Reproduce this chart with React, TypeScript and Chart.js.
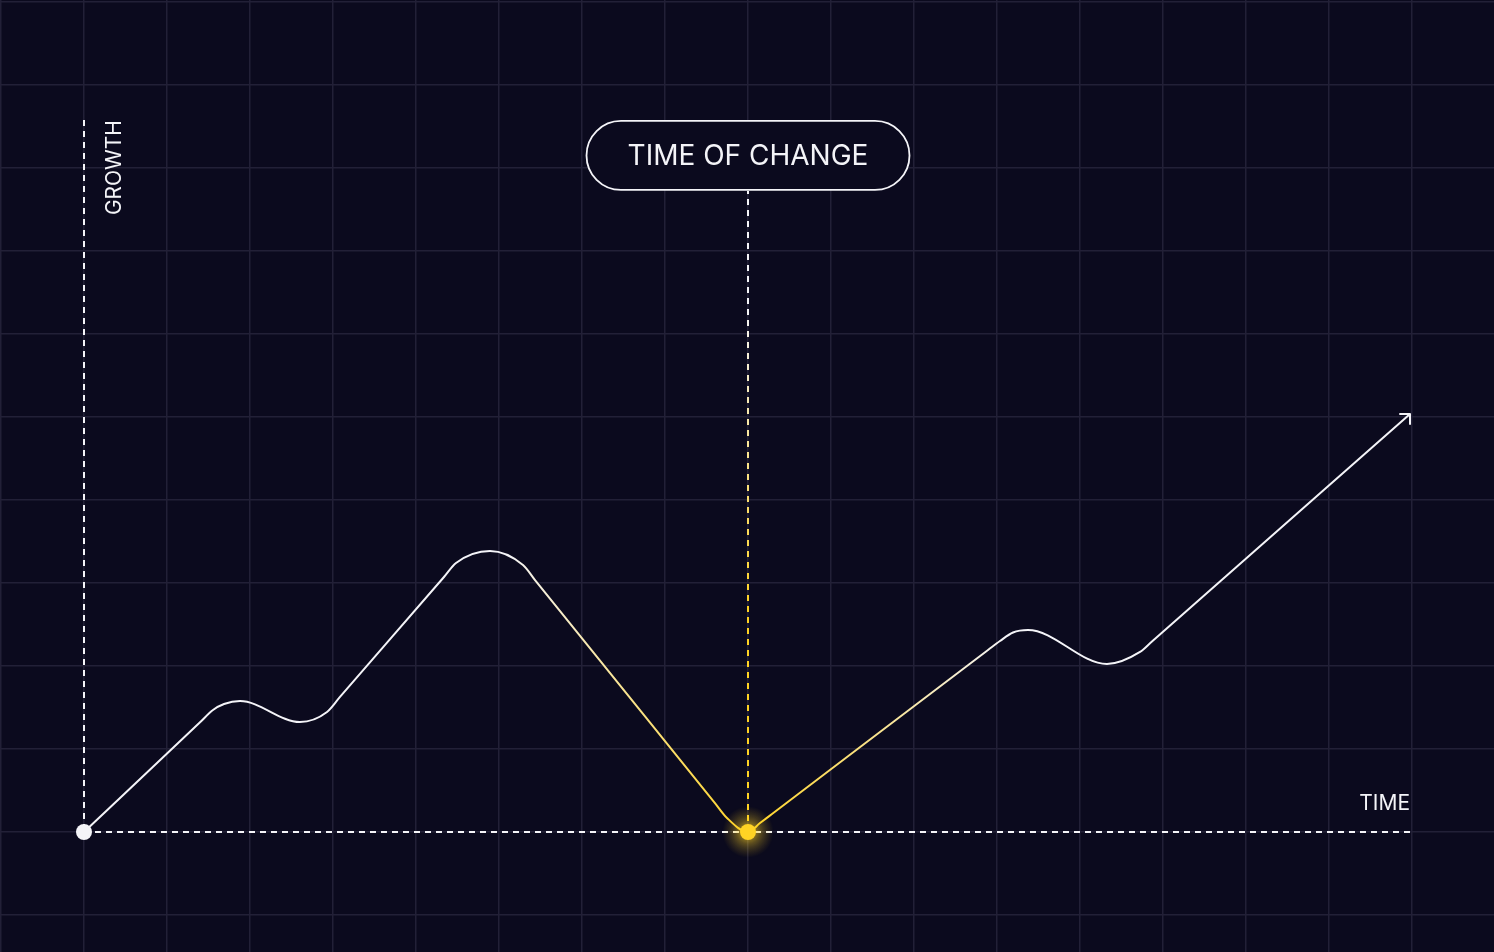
import React, { useEffect, useRef } from "react";
import { Chart, registerables } from "chart.js";

Chart.register(...registerables);

// ---- data (grid units: x = time, y = growth) ----
const curveX = [
  0, 1.398, 1.554, 1.687, 1.88, 2.602, 2.928, 3.084, 4.337, 4.482, 4.892, 5.289, 5.434,
  7.602, 7.747, 8, 8.145, 8.289, 10.892, 11.036, 11.193, 11.373, 12.325, 12.723, 12.867, 15.976,
];
const curveY = [
  0, 1.322, 1.47, 1.542, 1.578, 1.325, 1.446, 1.627, 3.072, 3.241, 3.386, 3.217, 3.036,
  0.349, 0.169, 0, 0.108, 0.217, 2.193, 2.301, 2.404, 2.434, 2.024, 2.169, 2.296, 5.036,
];

const xGrid = [-1, 0, 1, 2, 3, 4, 5, 6, 7, 8, 9, 10, 11, 12, 13, 14, 15, 16];
const yGrid = [-1, 0, 1, 2, 3, 4, 5, 6, 7, 8, 9, 10];

const timeAxisEnd = 15.976;
const growthAxisTop = 8.578;
const changeX = 8;
const changeLineTop = 7.723;
const changeLabelY = 8.151;

const changeLabel = "TIME OF CHANGE";
const growthLabel = "GROWTH";
const timeLabel = "TIME";

const X_MIN = -84 / 83;
const X_MAX = (1494 - 84) / 83;
const Y_MIN = -120 / 83;
const Y_MAX = 832 / 83;

const BG = "#0b0a1e";
const GRID = "#222037";
const WHITE = "#f4f4f8";
const YELLOW = "#ffd324";

export default function App() {
  const ref = useRef<HTMLCanvasElement | null>(null);

  useEffect(() => {
    const canvas = ref.current;
    if (!canvas) return;

    const curveData = curveX.map((x, i) => ({ x, y: curveY[i] }));

    const curveGradient = (ctx: any) => {
      const chart = ctx.chart;
      const xs = chart.scales?.x;
      if (!chart.chartArea || !xs) return WHITE;
      const x0 = xs.getPixelForValue(5.1);
      const x1 = xs.getPixelForValue(11.1);
      const xm = xs.getPixelForValue(changeX);
      const g = chart.ctx.createLinearGradient(x0, 0, x1, 0);
      g.addColorStop(0, WHITE);
      g.addColorStop((xm - x0) / (x1 - x0), YELLOW);
      g.addColorStop(1, WHITE);
      return g;
    };

    const changeGradient = (ctx: any) => {
      const chart = ctx.chart;
      const ys = chart.scales?.y;
      if (!chart.chartArea || !ys) return WHITE;
      const y0 = ys.getPixelForValue(6.3);
      const y1 = ys.getPixelForValue(2.7);
      const g = chart.ctx.createLinearGradient(0, y0, 0, y1);
      g.addColorStop(0, WHITE);
      g.addColorStop(1, YELLOW);
      return g;
    };

    const overlay = {
      id: "overlay",
      beforeDatasetDraw(chart: any, args: any) {
        if (args.meta?.label === "change-dot") {
          const ctx = chart.ctx;
          const xs = chart.scales.x;
          const ys = chart.scales.y;
          const px = xs.getPixelForValue(changeX);
          const py = ys.getPixelForValue(0);
          const g = ctx.createRadialGradient(px, py, 0, px, py, 26);
          g.addColorStop(0, "rgba(255, 211, 36, 0.55)");
          g.addColorStop(0.45, "rgba(255, 211, 36, 0.22)");
          g.addColorStop(1, "rgba(255, 211, 36, 0)");
          ctx.save();
          ctx.fillStyle = g;
          ctx.beginPath();
          ctx.arc(px, py, 26, 0, Math.PI * 2);
          ctx.fill();
          ctx.restore();
          ctx.save();
          ctx.shadowColor = "rgba(255, 211, 36, 0.9)";
          ctx.shadowBlur = 16;
        }
      },
      afterDatasetDraw(chart: any, args: any) {
        if (args.meta?.label === "change-dot") {
          chart.ctx.restore();
        }
      },
      afterDatasetsDraw(chart: any) {
        const ctx = chart.ctx;
        const xs = chart.scales.x;
        const ys = chart.scales.y;
        ctx.save();

        // arrow head at the end of the curve
        const n = curveX.length - 1;
        const tx = xs.getPixelForValue(curveX[n]);
        const ty = ys.getPixelForValue(curveY[n]);
        ctx.strokeStyle = WHITE;
        ctx.lineWidth = 2;
        ctx.lineCap = "round";
        ctx.lineJoin = "round";
        ctx.beginPath();
        ctx.moveTo(tx - 10, ty);
        ctx.lineTo(tx, ty);
        ctx.lineTo(tx, ty + 10);
        ctx.stroke();

        // GROWTH label (rotated)
        const gx = xs.getPixelForValue(0);
        const gy = ys.getPixelForValue(growthAxisTop);
        ctx.fillStyle = WHITE;
        ctx.font = "400 21px Inter, 'Noto Sans', sans-serif";
        ctx.save();
        ctx.translate(gx + 37, gy);
        ctx.rotate(-Math.PI / 2);
        ctx.textAlign = "right";
        ctx.textBaseline = "alphabetic";
        ctx.fillText(growthLabel, 0, 0);
        ctx.restore();

        // TIME label
        const ex = xs.getPixelForValue(timeAxisEnd);
        const ey = ys.getPixelForValue(0);
        ctx.textAlign = "right";
        ctx.textBaseline = "alphabetic";
        ctx.fillText(timeLabel, ex, ey - 22);

        // TIME OF CHANGE pill
        const cx = xs.getPixelForValue(changeX);
        const cy = ys.getPixelForValue(changeLabelY);
        const w = 323;
        const h = 69;
        const r = h / 2;
        ctx.fillStyle = BG;
        ctx.strokeStyle = WHITE;
        ctx.lineWidth = 1.8;
        ctx.beginPath();
        ctx.roundRect(cx - w / 2, cy - h / 2, w, h, r);
        ctx.fill();
        ctx.stroke();
        ctx.fillStyle = WHITE;
        ctx.font = "400 28px Inter, 'Noto Sans', sans-serif";
        ctx.textAlign = "center";
        ctx.textBaseline = "middle";
        ctx.fillText(changeLabel, cx, cy + 1);

        ctx.restore();
      },
    };

    const chart = new Chart(canvas, {
      type: "line",
      data: {
        datasets: [
          {
            label: "start-dot",
            data: [{ x: 0, y: 0 }],
            showLine: false,
            pointRadius: 8,
            pointBackgroundColor: WHITE,
            pointBorderWidth: 0,
            order: 0,
          },
          {
            label: "change-dot",
            data: [{ x: changeX, y: 0 }],
            showLine: false,
            pointRadius: 8,
            pointBackgroundColor: YELLOW,
            pointBorderWidth: 0,
            order: 1,
          },
          {
            label: "curve",
            data: curveData,
            borderColor: curveGradient,
            borderWidth: 2,
            pointRadius: 0,
            cubicInterpolationMode: "monotone",
            fill: false,
            order: 2,
          },
          {
            label: "change-line",
            data: [
              { x: changeX, y: 0 },
              { x: changeX, y: changeLineTop },
            ],
            borderColor: changeGradient,
            borderWidth: 2,
            borderDash: [6, 5],
            pointRadius: 0,
            order: 3,
          },
          {
            label: "time-axis",
            data: [
              { x: 0, y: 0 },
              { x: timeAxisEnd, y: 0 },
            ],
            borderColor: WHITE,
            borderWidth: 2,
            borderDash: [6, 5],
            pointRadius: 0,
            order: 4,
          },
          {
            label: "growth-axis",
            data: [
              { x: 0, y: growthAxisTop },
              { x: 0, y: 0 },
            ],
            borderColor: WHITE,
            borderWidth: 2,
            borderDash: [6, 5],
            pointRadius: 0,
            order: 5,
          },
        ],
      },
      options: {
        animation: false,
        responsive: true,
        maintainAspectRatio: false,
        events: [],
        layout: { padding: 0, autoPadding: false },
        plugins: {
          legend: { display: false },
          tooltip: { enabled: false },
        },
        scales: {
          x: {
            type: "linear",
            min: X_MIN,
            max: X_MAX,
            border: { display: false },
            grid: { color: GRID, lineWidth: 1.5, drawTicks: false },
            ticks: { display: false },
            afterBuildTicks: (scale: any) => {
              scale.ticks = xGrid.map((v) => ({ value: v }));
            },
            afterFit: (scale: any) => {
              scale.height = 0;
            },
          },
          y: {
            type: "linear",
            min: Y_MIN,
            max: Y_MAX,
            border: { display: false },
            grid: { color: GRID, lineWidth: 1.5, drawTicks: false },
            ticks: { display: false },
            afterBuildTicks: (scale: any) => {
              scale.ticks = yGrid.map((v) => ({ value: v }));
            },
            afterFit: (scale: any) => {
              scale.width = 0;
            },
          },
        },
      },
      plugins: [overlay],
    } as any);

    return () => chart.destroy();
  }, []);

  return (
    <div
      style={{
        position: "fixed",
        left: 0,
        top: 0,
        width: 1494,
        height: 952,
        background: BG,
      }}
    >
      <canvas ref={ref} />
    </div>
  );
}
